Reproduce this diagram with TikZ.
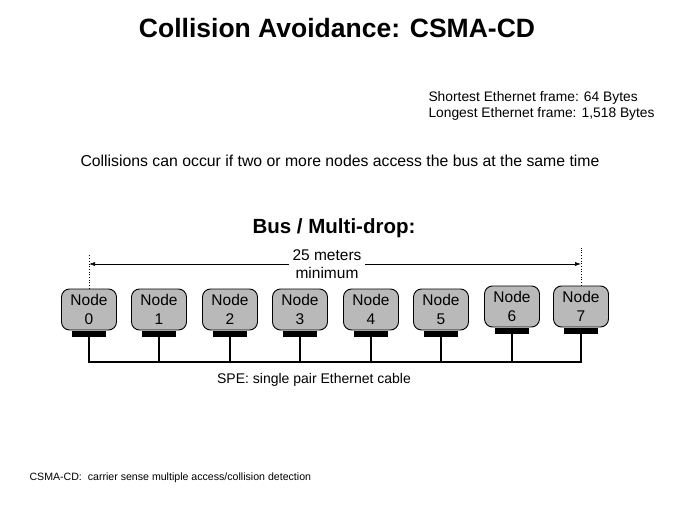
\documentclass[tikz,border=0pt]{standalone}
\usepackage{fontspec}
\setmainfont{Liberation Sans}
\usetikzlibrary{arrows.meta}
\begin{document}
\begin{tikzpicture}[x=1pt,y=-1pt,
  nd/.style={draw=black,line width=0.9pt,fill=gray!55!white,rounded corners=8pt,minimum width=55pt,minimum height=41pt,inner sep=0pt,align=center,font=\fontsize{15.5}{19}\selectfont},
  bar/.style={fill=black,minimum width=34pt,minimum height=6pt,inner sep=0pt,anchor=north},
  wire/.style={line width=2pt},
  dim/.style={line width=0.6pt,-{Latex[length=6pt,width=4pt]}}]
\useasboundingbox (0,0) rectangle (675,506);
\node[font=\bfseries\fontsize{26.5}{28}\selectfont] (title) at (337,28) {Collision Avoidance: CSMA-CD};
\node[anchor=west,align=left,font=\fontsize{13.8}{16.5}\selectfont] (info) at (425,106) {Shortest Ethernet frame: 64 Bytes\\Longest Ethernet frame: 1,518 Bytes};
\node[font=\fontsize{15.8}{18}\selectfont] (coll) at (340,161) {Collisions can occur if two or more nodes access the bus at the same time};
\node[font=\bfseries\fontsize{20.5}{22}\selectfont] (bus) at (334,228) {Bus / Multi-drop:};
\node[align=center,font=\fontsize{15.5}{18}\selectfont] (len) at (327,264) {25 meters\\minimum};
\foreach \i/\x/\y in {0/89/309.5,1/159/309.5,2/230/309.5,3/300/309.5,4/371/309.5,5/441/309.5,6/512/306.5,7/581/306.5}{
  \node[nd] (n\i) at (\x,\y) {Node\\\i};
  \node[bar] (b\i) at (n\i.south) {};
  \coordinate (t\i) at (\x,362);
  \draw[wire] (b\i.south) -- (t\i);
}
\draw[wire] ([xshift=-1pt]t0) -- ([xshift=1pt]t7);
\draw[dotted,line width=0.7pt] (n0.north) -- ++(0,-35) coordinate (d0);
\draw[dotted,line width=0.7pt] (n7.north) -- ++(0,-38) coordinate (d7);
\coordinate (a0) at (89,264); \coordinate (a7) at (581,264);
\draw[dim] (len.west |- a0) -- (a0);
\draw[dim] (len.east |- a7) -- (a7);
\node[font=\fontsize{14}{16}\selectfont] (spe) at (314,380) {SPE:\ single pair Ethernet cable};
\node[anchor=west,font=\fontsize{10.6}{12}\selectfont] (foot) at (26,478) {CSMA-CD:\ \ carrier sense multiple access/collision detection};
\end{tikzpicture}
\end{document}
